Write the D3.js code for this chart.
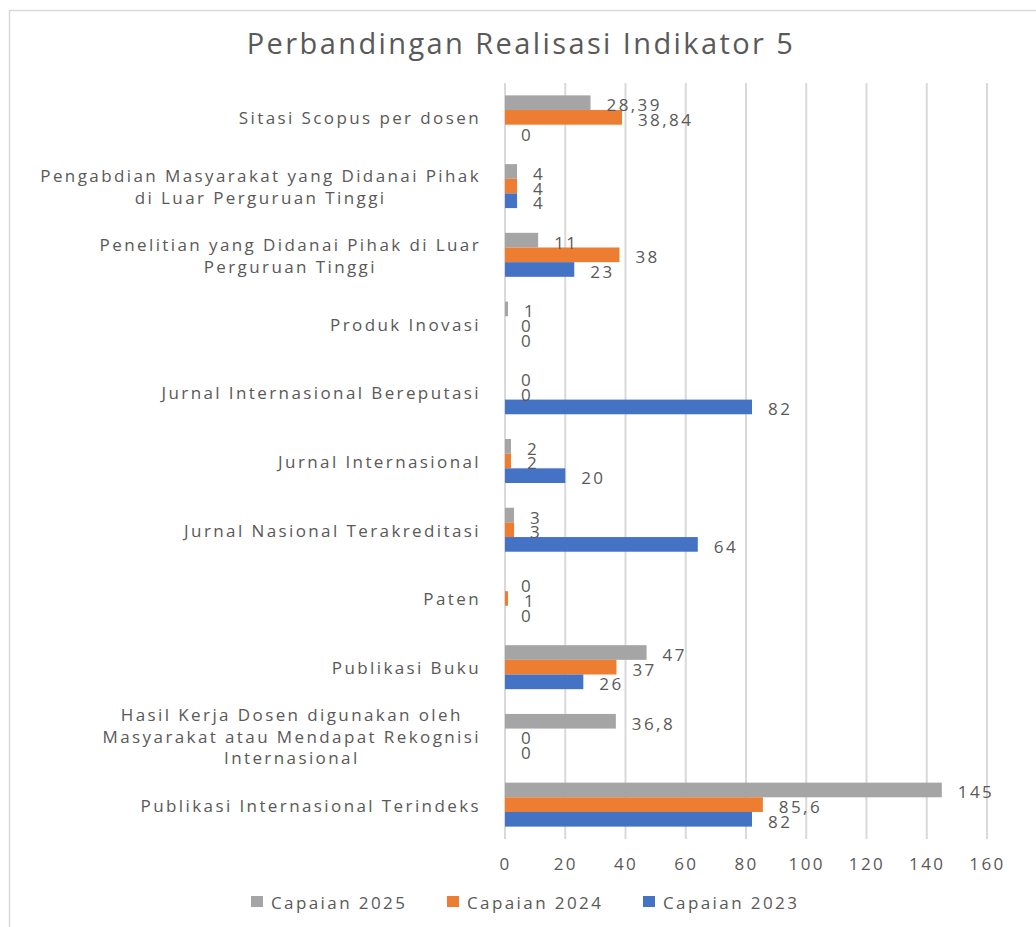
<!DOCTYPE html>
<html>
<head>
<meta charset="utf-8">
<script src="https://d3js.org/d3.v7.min.js"></script>
<style>
    body { margin: 0; background: #fff; }
    svg text { font-family: "Open Sans", "Liberation Sans", sans-serif; fill: #595959; }
</style>
</head>
<body>
<div id="chart"></div>
<script>
// Categories, top to bottom (line breaks as in the original labels)
const categories = [
    "Sitasi Scopus per dosen",
    "Pengabdian Masyarakat yang Didanai Pihak\ndi Luar Perguruan Tinggi",
    "Penelitian yang Didanai Pihak di Luar\nPerguruan Tinggi",
    "Produk Inovasi",
    "Jurnal Internasional Bereputasi",
    "Jurnal Internasional",
    "Jurnal Nasional Terakreditasi",
    "Paten",
    "Publikasi Buku",
    "Hasil Kerja Dosen digunakan oleh\nMasyarakat atau Mendapat Rekognisi\nInternasional",
    "Publikasi Internasional Terindeks"
];

// Series values, one per category
const capaian2025 = [28.39, 4, 11, 1, 0, 2, 3, 0, 47, 36.8, 145];
const capaian2024 = [38.84, 4, 38, 0, 0, 2, 3, 1, 37, 0, 85.6];
const capaian2023 = [0, 4, 23, 0, 82, 20, 64, 0, 26, 0, 82];

const seriesNames = ["Capaian 2025", "Capaian 2024", "Capaian 2023"];
const seriesColors = ["#A5A5A5", "#ED7D31", "#4472C4"];
const xTicks = [0, 20, 40, 60, 80, 100, 120, 140, 160];

const title = "Perbandingan Realisasi Indikator 5";

const width = 1036, height = 927;
const plot = { left: 505, right: 987, top: 83, bottom: 839 };

const svg = d3.select("#chart")
    .append("svg")
    .attr("width", width)
    .attr("height", height);

// chart frame (runs off the right and bottom edge like the screenshot)
svg.append("rect")
    .attr("x", 9.5)
    .attr("y", 10.5)
    .attr("width", width + 20)
    .attr("height", height + 20)
    .attr("fill", "none")
    .attr("stroke", "#D9D9D9")
    .attr("stroke-width", 1.5);

svg.append("text")
    .attr("x", 521)
    .attr("y", 42)
    .attr("text-anchor", "middle")
    .attr("dominant-baseline", "central")
    .attr("font-size", "29px")
    .attr("letter-spacing", "2.4px")
    .text(title);

const x = d3.scaleLinear()
    .domain([0, 160])
    .range([plot.left, plot.right]);

const y0 = d3.scaleBand()
    .domain(d3.range(categories.length))
    .range([plot.top, plot.bottom])
    .paddingInner(0.36)
    .paddingOuter(0.18);

const y1 = d3.scaleBand()
    .domain(d3.range(seriesNames.length))
    .range([0, y0.bandwidth()]);

// vertical gridlines
svg.append("g")
    .selectAll("line")
    .data(xTicks)
    .enter()
    .append("line")
    .attr("x1", d => x(d))
    .attr("x2", d => x(d))
    .attr("y1", plot.top)
    .attr("y2", plot.bottom)
    .attr("stroke", "#D9D9D9")
    .attr("stroke-width", 2);

// x axis tick labels
const xAxis = svg.append("g")
    .attr("transform", `translate(0, ${plot.bottom})`)
    .call(d3.axisBottom(x).tickValues(xTicks).tickSize(0).tickPadding(0));
xAxis.select(".domain").remove();
xAxis.selectAll("text")
    .attr("y", 24)
    .attr("dy", null)
    .attr("dominant-baseline", "central")
    .attr("font-size", "17px")
    .attr("letter-spacing", "2.4px")
    .attr("fill", "#595959");

const locale = d3.formatLocale({ decimal: ",", thousands: ".", grouping: [3], currency: ["", ""] });
const fmt = locale.format("~r");

const rows = categories.map((c, i) => ({
    name: c,
    values: [capaian2025[i], capaian2024[i], capaian2023[i]]
}));

const groups = svg.append("g")
    .selectAll("g")
    .data(rows)
    .enter()
    .append("g")
    .attr("transform", (d, i) => `translate(0, ${y0(i)})`);

groups.selectAll("rect")
    .data(d => d.values)
    .enter()
    .append("rect")
    .attr("x", x(0))
    .attr("y", (d, j) => y1(j))
    .attr("width", d => x(d) - x(0))
    .attr("height", y1.bandwidth())
    .attr("fill", (d, j) => seriesColors[j]);

// value labels, outside end
groups.selectAll("text.value")
    .data(d => d.values)
    .enter()
    .append("text")
    .attr("class", "value")
    .attr("x", d => x(d) + 16)
    .attr("y", (d, j) => y1(j) + y1.bandwidth() / 2 + 2)
    .attr("dominant-baseline", "central")
    .attr("font-size", "17px")
    .attr("letter-spacing", "2.4px")
    .text(d => fmt(d));

// category labels: block right-aligned to the axis, lines centered inside it
const lineHeight = 21.5;
groups.each(function (d) {
    const g = d3.select(this);
    const lines = d.name.split("\n");
    const t = g.append("text")
        .attr("font-size", "17px")
        .attr("letter-spacing", "2.4px")
        .attr("text-anchor", "middle")
        .attr("dominant-baseline", "central");
    const spans = lines.map((line, k) => t.append("tspan")
        .attr("y", y0.bandwidth() / 2 + (k - (lines.length - 1) / 2) * lineHeight)
        .text(line));
    const maxW = d3.max(spans, s => s.node().getComputedTextLength());
    spans.forEach(s => s.attr("x", plot.left - 24 - maxW / 2));
});

// legend
const legend = svg.append("g")
    .selectAll("g")
    .data(seriesNames)
    .enter()
    .append("g")
    .attr("transform", (d, i) => `translate(${251 + i * 196}, 902)`);

legend.append("rect")
    .attr("x", 0)
    .attr("y", -6)
    .attr("width", 12)
    .attr("height", 11)
    .attr("fill", (d, i) => seriesColors[i]);

legend.append("text")
    .attr("x", 20)
    .attr("y", 0)
    .attr("dominant-baseline", "central")
    .attr("font-size", "17px")
    .attr("letter-spacing", "2.4px")
    .text(d => d);
</script>
</body>
</html>
